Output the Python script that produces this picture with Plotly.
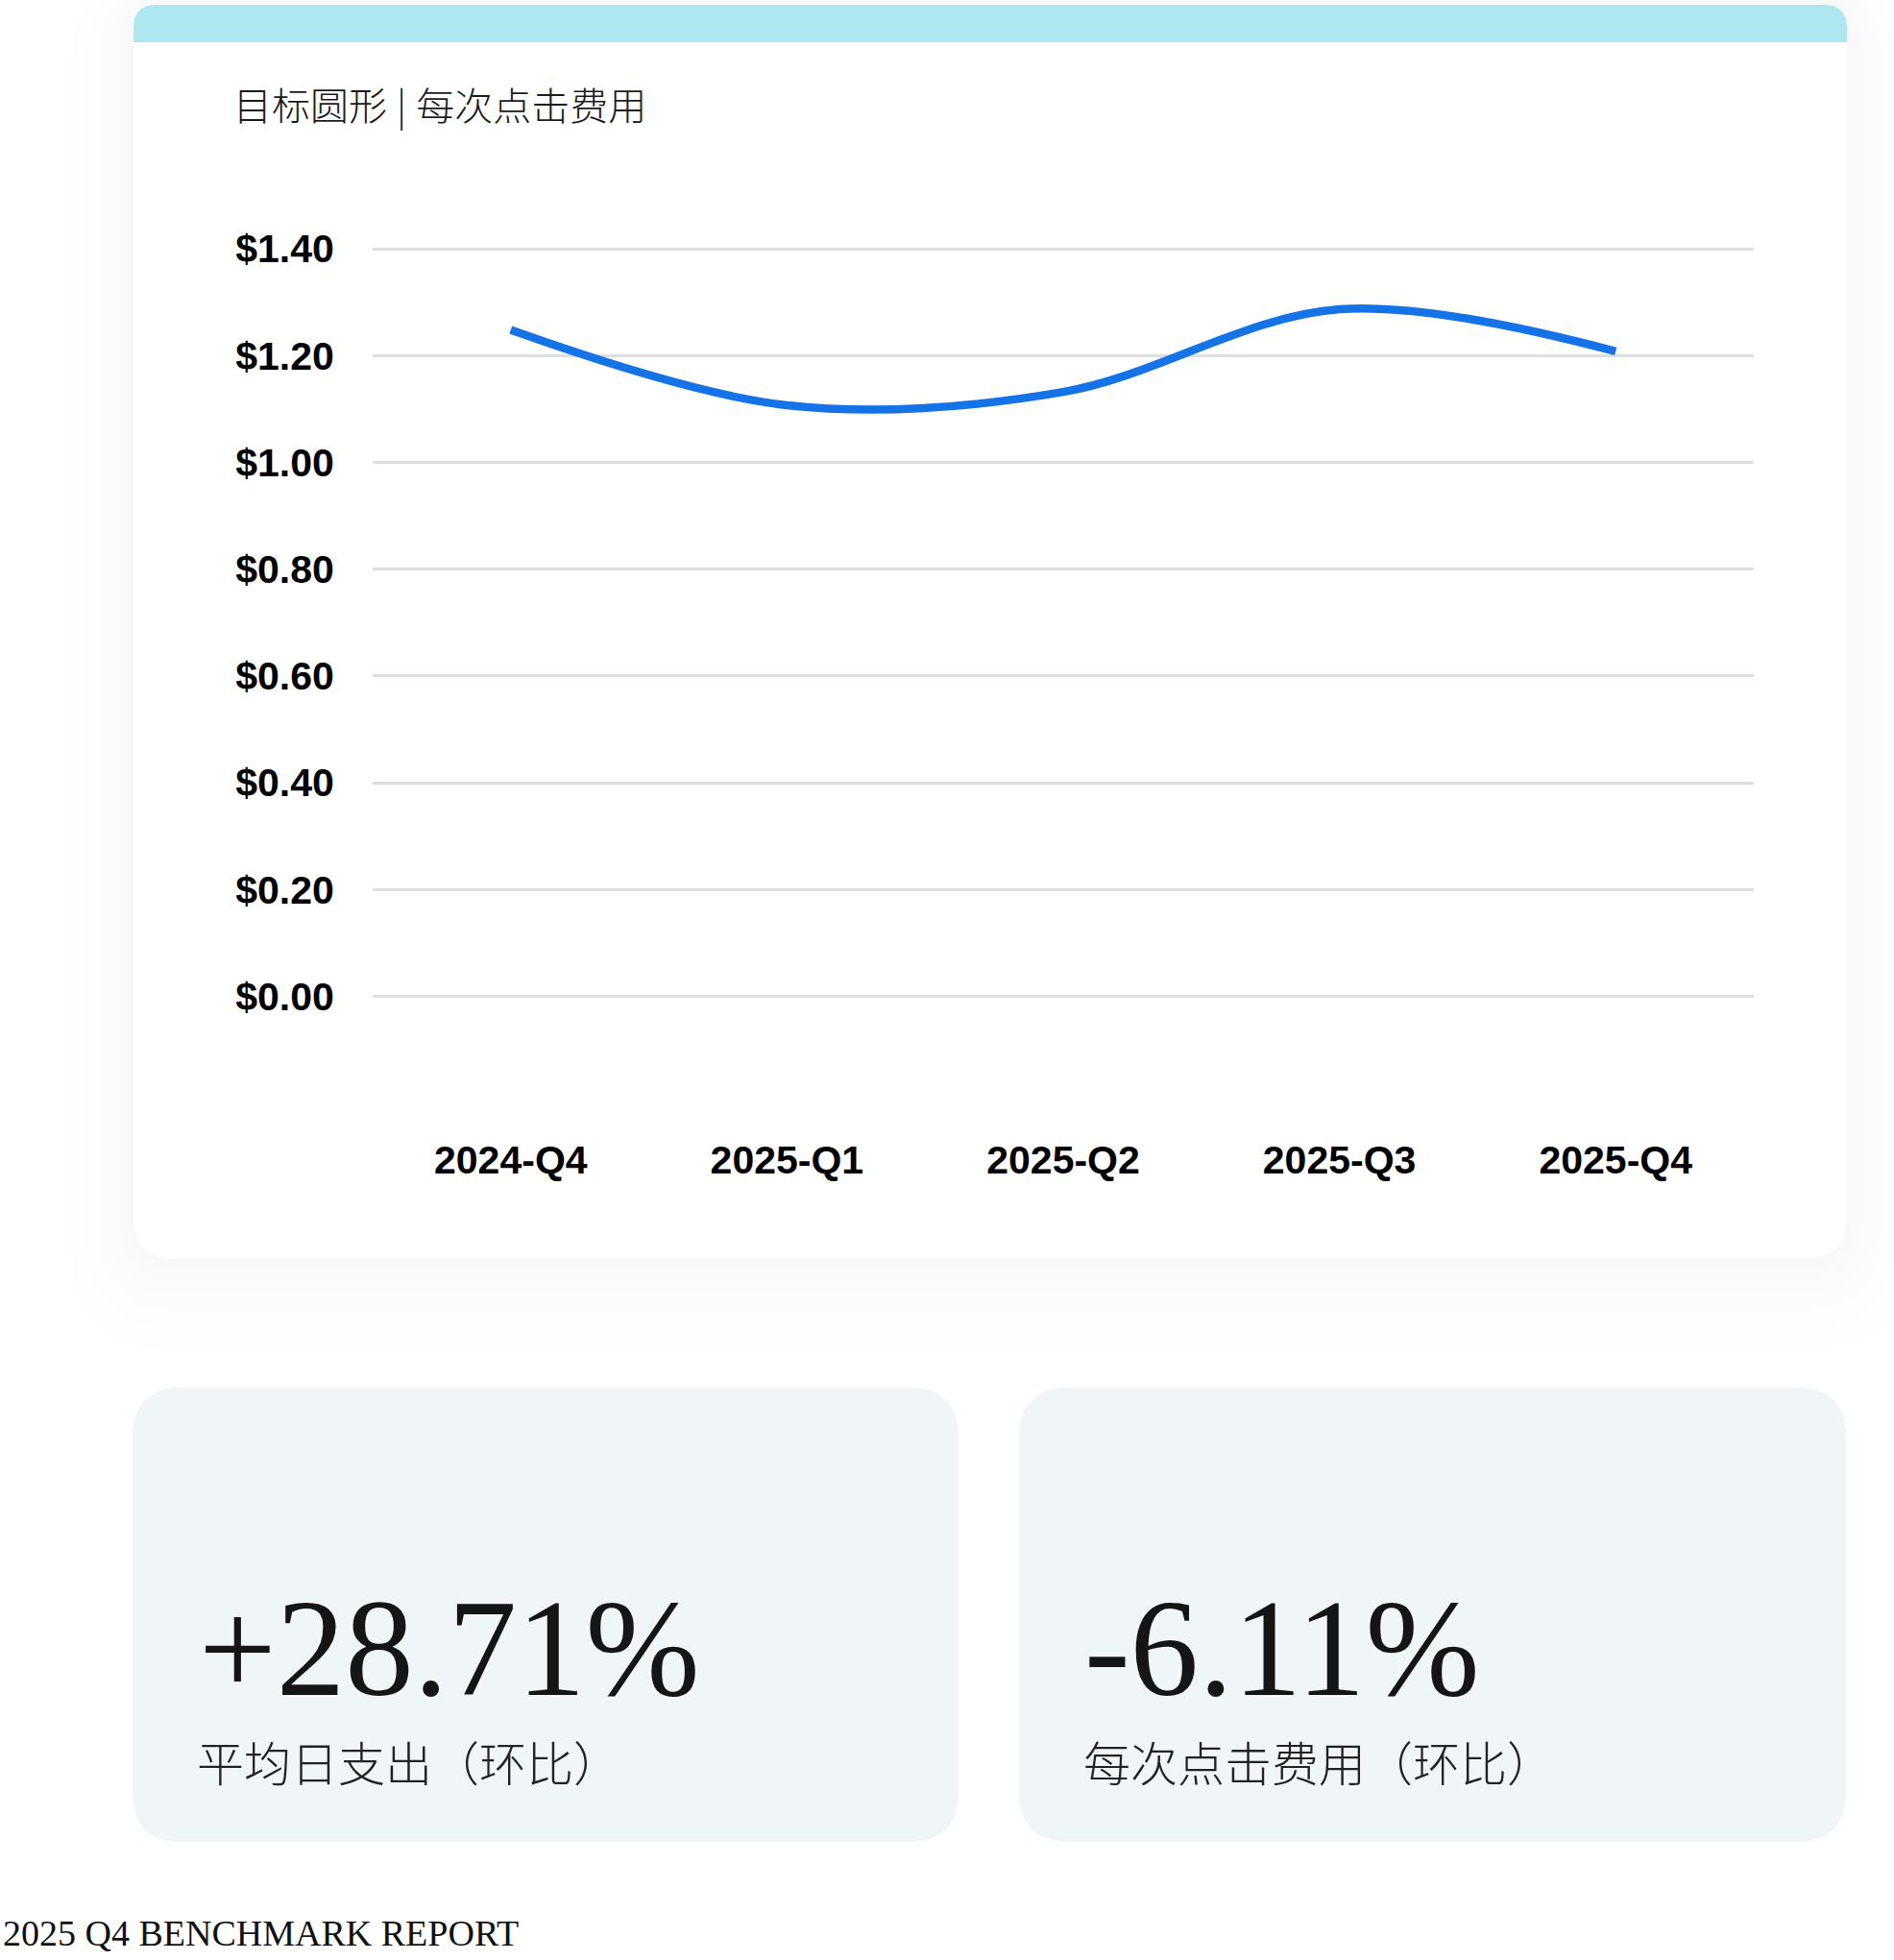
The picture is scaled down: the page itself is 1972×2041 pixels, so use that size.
import plotly.graph_objects as go

# ---------------- data ----------------
quarters = ["2024-Q4", "2025-Q1", "2025-Q2", "2025-Q3", "2025-Q4"]
cpc = [1.248, 1.107, 1.132, 1.287, 1.208]
y_tick_vals = [0.0, 0.2, 0.4, 0.6, 0.8, 1.0, 1.2, 1.4]
y_tick_labels = ["$0.00", "$0.20", "$0.40", "$0.60", "$0.80", "$1.00", "$1.20", "$1.40"]

chart_title = "目标圆形\u2005|\u2005每次点击费用"
kpi_values = ["+28.71%", "-6.11%"]
kpi_labels = ["平均日支出（环比）", "每次点击费用（环比）"]
footer_text = "2025 Q4 BENCHMARK REPORT"

# ---------------- layout helpers ----------------
W, H = 1972, 2041


def P(x, y):
    return f"{x / W:.6f},{1 - y / H:.6f}"


def rrect_path(x0, y0, x1, y1, rt, rb):
    parts = [f"M{P(x0 + rt, y0)}", f"L{P(x1 - rt, y0)}"]
    if rt > 0:
        parts.append(f"Q{P(x1, y0)} {P(x1, y0 + rt)}")
    parts.append(f"L{P(x1, y1 - rb)}")
    if rb > 0:
        parts.append(f"Q{P(x1, y1)} {P(x1 - rb, y1)}")
    parts.append(f"L{P(x0 + rb, y1)}")
    if rb > 0:
        parts.append(f"Q{P(x0, y1)} {P(x0, y1 - rb)}")
    parts.append(f"L{P(x0, y0 + rt)}")
    if rt > 0:
        parts.append(f"Q{P(x0, y0)} {P(x0 + rt, y0)}")
    parts.append("Z")
    return " ".join(parts)


def shape(path, fill):
    return dict(type="path", xref="paper", yref="paper", path=path,
                fillcolor=fill, line=dict(width=0), layer="below")


shapes = []
# soft shadow of the chart card
cx0, cy0, cx1, cy1 = 139, 5, 1923, 1311
for e in [3, 8, 15, 24, 36, 50, 66]:
    dy = e * 0.45
    shapes.append(shape(rrect_path(cx0 - e, cy0 - e + dy, cx1 + e, cy1 + e + dy, 30 + e, 43 + e),
                        "rgba(0,0,0,0.0048)"))
# card body
shapes.append(shape(rrect_path(cx0, cy0, cx1, cy1, 24, 43), "white"))
# teal band
shapes.append(shape(rrect_path(cx0, cy0, cx1, 44, 24, 0), "#AEE7EF"))
# KPI cards
shapes.append(shape(rrect_path(138, 1445, 998, 1918, 52, 52), "#F0F5F8"))
shapes.append(shape(rrect_path(1061, 1445, 1922, 1918, 52, 52), "#F0F5F8"))

fig = go.Figure()
fig.add_trace(go.Scatter(
    x=quarters, y=cpc, mode="lines",
    line=dict(color="#1473E6", width=8.5, shape="spline", smoothing=1),
    hoverinfo="skip", showlegend=False,
))

tick_font = dict(family="Liberation Sans, Arial, sans-serif", size=41, color="black", weight="bold")

plot_left, plot_right = 388, 1826
plot_top, plot_bottom = 231.3, 1180.0
y_lo = -(plot_bottom - 1037.5) / 556.0
y_hi = (1037.5 - plot_top) / 556.0

annotations = []


def ann(text, x, y, size, family, color="#111111", weight="normal", xanchor="left"):
    annotations.append(dict(
        text=text, x=x / W, y=1 - y / H, xref="paper", yref="paper",
        showarrow=False, xanchor=xanchor, yanchor="middle",
        font=dict(family=family, size=size, color=color, weight=weight),
    ))


cjk = "Noto Sans CJK SC, Noto Sans, sans-serif"
serif = "Liberation Serif, DejaVu Serif, serif"
ann(chart_title, 241, 108, 40, cjk, color="#1a1a1a", weight=300)
ann(kpi_values[0], 205, 1717, 143, serif, color="#151515")
ann(kpi_values[1], 1127, 1717, 143, serif, color="#151515")
ann(kpi_labels[0], 203, 1833, 49, cjk, color="#222222", weight=300)
ann(kpi_labels[1], 1126, 1833, 49, cjk, color="#222222", weight=300)
ann(footer_text, 1, 2013, 38, serif, color="#111111")

fig.update_layout(
    width=W, height=H,
    margin=dict(l=0, r=0, t=0, b=0),
    paper_bgcolor="white", plot_bgcolor="rgba(0,0,0,0)",
    showlegend=False,
    shapes=shapes,
    annotations=annotations,
    xaxis=dict(
        domain=[plot_left / W, plot_right / W],
        type="category", range=[-0.5, 4.5],
        showgrid=False, zeroline=False, showline=False,
        ticks="", tickfont=tick_font, fixedrange=True,
    ),
    yaxis=dict(
        domain=[1 - plot_bottom / H, 1 - plot_top / H],
        range=[y_lo, y_hi],
        tickvals=y_tick_vals, ticktext=y_tick_labels,
        showgrid=True, gridcolor="#DEDEDE", gridwidth=2.5,
        zeroline=False, showline=False,
        ticks="outside", ticklen=31, tickcolor="rgba(0,0,0,0)",
        tickfont=tick_font, fixedrange=True,
    ),
)

fig.write_html("out.html", config={"displayModeBar": False})
